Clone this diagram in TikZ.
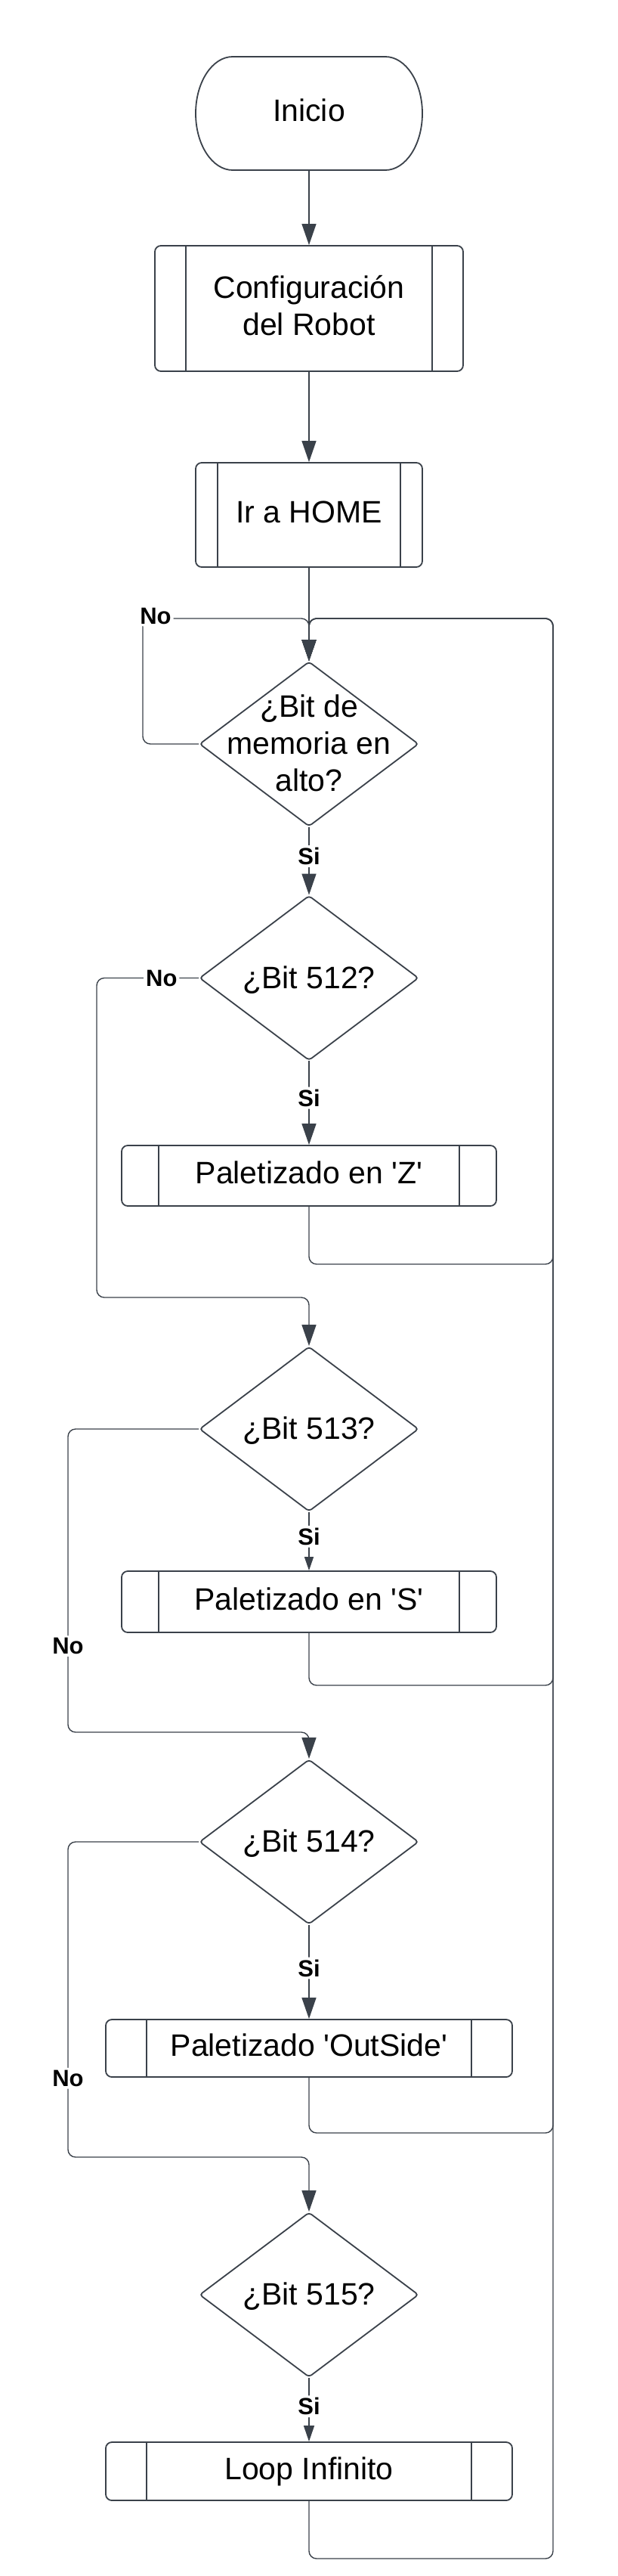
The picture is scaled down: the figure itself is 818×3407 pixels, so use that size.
\documentclass[tikz,border=0pt]{standalone}
\usepackage{fontspec}
\setmainfont{Liberation Sans}
\usetikzlibrary{shapes.geometric,arrows.meta}
\definecolor{lc}{HTML}{3A414A}
\newcommand{\dtext}[1]{\smash{\raisebox{-10pt}{\makebox[0pt]{\begin{tabular}{@{}c@{}}#1\end{tabular}}}}}
\newcommand{\sq}{\textquotesingle}
\begin{document}
\begin{tikzpicture}[x=1pt,y=-1pt,
  every node/.style={font=\fontsize{41}{49}\selectfont, text=black},
  shp/.style={draw=lc, line width=1.8pt},
  subproc/.style={shp, rectangle, rounded corners=8pt, inner sep=0pt, align=center, text depth=8pt,
    path picture={\draw[draw=lc, line width=1.8pt]
      ([xshift=#1]path picture bounding box.north west) -- ([xshift=#1]path picture bounding box.south west)
      ([xshift=-#1]path picture bounding box.north east) -- ([xshift=-#1]path picture bounding box.south east);}},
  dec/.style={shp, diamond, rounded corners=4pt, minimum width=290pt, minimum height=218pt, inner sep=0pt},
  conn/.style={draw=lc, line width=1.4pt, rounded corners=10pt},
  arr/.style={-{Triangle[length=28pt,width=19pt]}},
  sarr/.style={-{Triangle[length=18pt,width=12pt]}},
  marr/.style={-{Triangle[length=21pt,width=14pt]}},
  lbl/.style={fill=white, inner sep=3pt, font=\bfseries\fontsize{31}{33}\selectfont},
]
\useasboundingbox (0,0) rectangle (818,3407);

% Nodes
\node[minimum width=300pt, minimum height=150pt, inner sep=0pt, text depth=8pt] (inicio) at (409,150) {Inicio};
\draw[shp] (308,75) -- (510,75) .. controls (537,75) and (559,108.6) .. (559,150)
  .. controls (559,191.4) and (537,225) .. (510,225) -- (308,225)
  .. controls (281,225) and (259,191.4) .. (259,150)
  .. controls (259,108.6) and (281,75) .. (308,75) -- cycle;

\node[subproc=41pt, minimum width=408pt, minimum height=166pt] (config) at (409,408) {Configuración\\del Robot};
\node[subproc=29pt, minimum width=300pt, minimum height=138pt] (home) at (409,681) {Ir a HOME};
\node[dec] (d1) at (409,984) {\dtext{¿Bit de\\memoria en\\alto?}};
\node[dec] (d2) at (409,1293.5) {\dtext{¿Bit 512?}};
\node[subproc=49pt, minimum width=496pt, minimum height=80pt] (z) at (409,1555) {Paletizado en \sq Z\sq};
\node[dec] (d3) at (409,1890) {\dtext{¿Bit 513?}};
\node[subproc=49pt, minimum width=496pt, minimum height=81pt] (s) at (409,2118.5) {Paletizado en \sq S\sq};
\node[dec] (d4) at (409,2436) {\dtext{¿Bit 514?}};
\node[subproc=54pt, minimum width=538pt, minimum height=76pt] (outside) at (409,2709) {Paletizado \sq OutSide\sq};
\node[dec] (d5) at (409,3035) {\dtext{¿Bit 515?}};
\node[subproc=54pt, minimum width=538pt, minimum height=77pt] (loop) at (409,3268.5) {Loop Infinito};

% Return loops (right side)
\draw[conn, arr] (z.south) -- (409,1672) -- (732,1672) -- (732,818) -- (409,818) -- (d1.north);
\draw[conn, arr] (s.south) -- (409,2229) -- (732,2229) -- (732,818) -- (409,818) -- (d1.north);
\draw[conn, arr] (outside.south) -- (409,2821) -- (732,2821) -- (732,818) -- (409,818) -- (d1.north);
\draw[conn, arr] (loop.south) -- (409,3384) -- (732,3384) -- (732,818) -- (409,818) -- (d1.north);

% Main flow
\draw[conn, arr] (inicio.south) -- (config.north);
\draw[conn, arr] (config.south) -- (home.north);
\draw[conn, arr] (home.south) -- (d1.north);
\draw[conn, arr] (d1.west) -- (189,984) -- (189,818) node[lbl, xshift=17pt, yshift=3pt] {No} -- (409,818) -- (d1.north);
\draw[conn, arr] (d1.south) -- node[lbl, pos=0.43] {Si} (d2.north);
\draw[conn, arr] (d2.west) -- node[lbl, pos=0.365] {No} (128,1293.5) -- (128,1716) -- (409,1716) -- (d3.north);
\draw[conn, arr] (d2.south) -- node[lbl, pos=0.44] {Si} (z.north);
\draw[conn, arr] (d3.west) -- (90,1890) -- node[lbl, pos=0.716] {No} (90,2291) -- (409,2291) -- (d4.north);
\draw[conn, sarr] (d3.south) -- node[lbl, pos=0.42] {Si} (s.north);
\draw[conn, arr] (d4.west) -- (90,2436) -- node[lbl, pos=0.75] {No} (90,2853) -- (409,2853) -- (d5.north);
\draw[conn, arr] (d4.south) -- node[lbl, pos=0.46] {Si} (outside.north);
\draw[conn, marr] (d5.south) -- node[lbl, pos=0.45] {Si} (loop.north);
\end{tikzpicture}
\end{document}
